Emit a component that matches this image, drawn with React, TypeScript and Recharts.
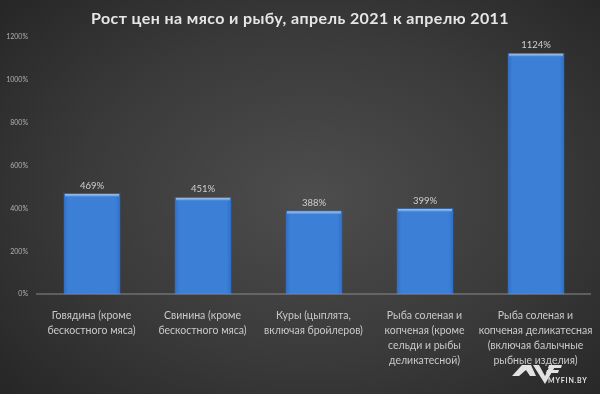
import React from "react";
import { BarChart, Bar, XAxis, YAxis, LabelList } from "recharts";

const categories = [
  "Говядина (кроме бескостного мяса)",
  "Свинина (кроме бескостного мяса)",
  "Куры (цыплята, включая бройлеров)",
  "Рыба соленая и копченая (кроме сельди и рыбы деликатесной)",
  "Рыба соленая и копченая деликатесная (включая балычные рыбные изделия)",
];
const categoryLines = [
  ["Говядина (кроме", "бескостного мяса)"],
  ["Свинина (кроме", "бескостного мяса)"],
  ["Куры (цыплята,", "включая бройлеров)"],
  ["Рыба соленая и", "копченая (кроме", "сельди и рыбы", "деликатесной)"],
  ["Рыба соленая и", "копченая деликатесная", "(включая балычные", "рыбные изделия)"],
];
const values = [469, 451, 388, 399, 1124];
const yTicks = [0, 200, 400, 600, 800, 1000, 1200];
const title = "Рост цен на мясо и рыбу, апрель 2021 к апрелю 2011";

const data = categories.map((c, i) => ({ name: c, idx: i, value: values[i] }));

const FONT = "Lato, 'Noto Sans', sans-serif";

const XTick = (props: any) => {
  const { x, y, payload } = props;
  const lines = categoryLines[payload.index] || [payload.value];
  return (
    <text x={x} y={y} textAnchor="middle" fill="#c9c9c9" fontSize={10.5} fontFamily={FONT}>
      {lines.map((l: string, i: number) => (
        <tspan key={i} x={x} dy={i === 0 ? 17 : 15}>
          {l}
        </tspan>
      ))}
    </text>
  );
};

const BevelBar = (props: any) => {
  const { x, y, width, height } = props;
  if (!height || height <= 0) return null;
  return (
    <g>
      <rect x={x} y={y} width={width} height={height} fill="url(#barGrad)" stroke="#2f68b8" strokeWidth={0.5} />
      <rect x={x + 1} y={y + 0.5} width={width - 2} height={2.5} fill="url(#topGrad)" />
    </g>
  );
};

export default function App() {
  return (
    <div
      style={{
        position: "fixed",
        left: 0,
        top: 0,
        width: 600,
        height: 394,
        background: "radial-gradient(ellipse 70% 75% at 52% 50%, #4d4d4d 0%, #3a3a3a 55%, #262626 100%)",
        overflow: "hidden",
      }}
    >
      <div
        style={{
          position: "absolute",
          left: 0,
          top: 8,
          width: 600,
          textAlign: "center",
          color: "#e6e6e6",
          fontFamily: FONT,
          fontWeight: 700,
          fontSize: 16,
          letterSpacing: 0.4,
        }}
      >
        {title}
      </div>
      <BarChart
        width={600}
        height={394}
        data={data}
        margin={{ top: 37, right: 9, bottom: 70, left: 0 }}
        barCategoryGap={0}
        style={{ position: "absolute", left: 0, top: 0 }}
      >
        <defs>
          <linearGradient id="barGrad" x1="0" y1="0" x2="1" y2="0">
            <stop offset="0%" stopColor="#3370c6" />
            <stop offset="8%" stopColor="#3b7fd6" />
            <stop offset="92%" stopColor="#3b7fd6" />
            <stop offset="100%" stopColor="#3370c6" />
          </linearGradient>
          <linearGradient id="topGrad" x1="0" y1="0" x2="0" y2="1">
            <stop offset="0%" stopColor="#9cc4f2" />
            <stop offset="100%" stopColor="#5a95e0" />
          </linearGradient>
        </defs>
        <XAxis
          dataKey="name"
          height={30}
          tick={<XTick />}
          tickLine={false}
          axisLine={{ stroke: "#8a8a8a", strokeWidth: 1 }}
          interval={0}
        />
        <YAxis
          width={36}
          domain={[0, 1200]}
          ticks={yTicks}
          tickFormatter={(v: number) => `${v}%`}
          tick={{ fill: "#b0b0b0", fontSize: 7, fontFamily: FONT }}
          axisLine={false}
          tickLine={false}
        />
        <Bar
          dataKey="value"
          fill="#3b7fd6"
          barSize={56}
          isAnimationActive={false}
          shape={<BevelBar />}
        >
          <LabelList
            dataKey="value"
            position="top"
            offset={5}
            formatter={(v: number) => `${v}%`}
            fill="#cfcfcf"
            fontSize={9.5}
            fontFamily={FONT}
          />
        </Bar>
      </BarChart>
      <svg width={600} height={394} style={{ position: "absolute", left: 0, top: 0, pointerEvents: "none" }}>
        <g fill="#e2e2e2">
          <polygon points="512,376 522,365 531,365 536,376 530,376 526,370 519,376" />
          <polygon points="533,365 539,365 545,376 550,365 556,365 545,384" />
          <polygon points="549,365 562,365 561,368 548,368" />
          <polygon points="547,370 559,370 558,373 546,373" />
        </g>
        <text x={548} y={383} fill="#e2e2e2" fontSize={7} fontWeight={700} fontFamily={FONT} letterSpacing={0.8}>
          MYFIN.BY
        </text>
      </svg>
    </div>
  );
}
